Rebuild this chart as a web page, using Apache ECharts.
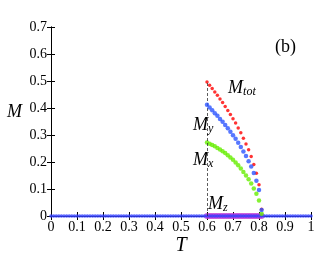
<!DOCTYPE html>
<html><head><meta charset="utf-8">
<script src="https://cdn.jsdelivr.net/npm/echarts@6/dist/echarts.min.js"></script>
<style>html,body{margin:0;padding:0;background:#fff}#c{width:327px;height:253px}</style>
</head><body><div id="c"></div>
<script>
// Ordered-phase temperatures
var T_ord = [0.60,0.61,0.62,0.63,0.64,0.65,0.66,0.67,0.68,0.69,0.70,0.71,0.72,0.73,0.74,0.75,0.76,0.77,0.78,0.79,0.80,0.81];
var M_tot = [0.496,0.484,0.472,0.459,0.447,0.433,0.420,0.406,0.391,0.376,0.360,0.344,0.326,0.308,0.288,0.267,0.245,0.220,0.191,0.158,0.116,0.025];
var M_y   = [0.412,0.402,0.392,0.381,0.371,0.359,0.349,0.337,0.325,0.312,0.299,0.286,0.271,0.256,0.239,0.222,0.203,0.183,0.159,0.131,0.096,0.022];
var M_x   = [0.272,0.268,0.263,0.258,0.252,0.246,0.240,0.233,0.225,0.217,0.208,0.198,0.188,0.176,0.163,0.150,0.136,0.120,0.102,0.082,0.057,0.008];
var M_z   = [0,0,0,0,0,0,0,0,0,0,0,0,0,0,0,0,0,0,0,0,0,0];
// Full temperature grid where magnetisation is drawn at zero
var T_all = [0,0.01,0.02,0.03,0.04,0.05,0.06,0.07,0.08,0.09,0.10,0.11,0.12,0.13,0.14,0.15,0.16,0.17,0.18,0.19,
  0.20,0.21,0.22,0.23,0.24,0.25,0.26,0.27,0.28,0.29,0.30,0.31,0.32,0.33,0.34,0.35,0.36,0.37,0.38,0.39,
  0.40,0.41,0.42,0.43,0.44,0.45,0.46,0.47,0.48,0.49,0.50,0.51,0.52,0.53,0.54,0.55,0.56,0.57,0.58,0.59,
  0.60,0.61,0.62,0.63,0.64,0.65,0.66,0.67,0.68,0.69,0.70,0.71,0.72,0.73,0.74,0.75,0.76,0.77,0.78,0.79,
  0.80,0.81,0.82,0.83,0.84,0.85,0.86,0.87,0.88,0.89,0.90,0.91,0.92,0.93,0.94,0.95,0.96,0.97,0.98,0.99,1.00];
var xTicks = [0,0.1,0.2,0.3,0.4,0.5,0.6,0.7,0.8,0.9,1];
var yTicks = [0,0.1,0.2,0.3,0.4,0.5,0.6,0.7];
var Tc_line = [0.6, 0.496];
// annotation anchors in data coordinates
var annot = [
  {t:0.681, m:0.474, txt:'{m|M}{s|tot}'},
  {t:0.546, m:0.337, txt:'{m|M}{s|y}'},
  {t:0.546, m:0.207, txt:'{m|M}{s|x}'},
  {t:0.604, m:0.045, txt:'{m|M}{s|z}'},
  {t:0.862, m:0.626, txt:'{p|(b)}'}
];

var FF = '"Liberation Serif","DejaVu Serif",serif';
function pairs(xs, ys){ return xs.map(function(x,i){return [x, ys[i]];}); }
function fmt(v){ return String(Math.round(v*10)/10); }

var chart = echarts.init(document.getElementById('c'));
var axisLine = {show:true, lineStyle:{color:'#000', width:1}};
var option = {
  animation:false,
  grid:{left:51, right:16, top:27, bottom:37, containLabel:false, outerBoundsMode:'none'},
  xAxis:[{
    type:'value', min:0, max:1, interval:0.1, position:'bottom',
    name:'T', nameLocation:'middle', nameGap:20, nameMoveOverlap:false,
    nameTextStyle:{fontFamily:FF, fontStyle:'italic', fontSize:20, color:'#000'},
    axisLine:axisLine, axisTick:{inside:true, length:4, lineStyle:{color:'#000'}},
    axisLabel:{fontFamily:FF, fontSize:14, color:'#000', margin:4, formatter:fmt},
    splitLine:{show:false}
  },{
    type:'value', min:0, max:1, interval:0.1, position:'top',
    axisLine:axisLine, axisTick:{inside:true, length:4, lineStyle:{color:'#000'}},
    axisLabel:{show:false}, splitLine:{show:false}
  }],
  yAxis:[{
    type:'value', min:0, max:0.7, interval:0.1, position:'left',
    name:'M', nameLocation:'middle', nameGap:29, nameRotate:0, nameMoveOverlap:false,
    nameTextStyle:{fontFamily:FF, fontStyle:'italic', fontSize:18, color:'#000', verticalAlign:'bottom'},
    axisLine:axisLine, axisTick:{inside:true, length:4, lineStyle:{color:'#000'}},
    axisLabel:{fontFamily:FF, fontSize:14, color:'#000', margin:4, formatter:fmt},
    splitLine:{show:false}
  },{
    type:'value', min:0, max:0.7, interval:0.1, position:'right',
    axisLine:axisLine, axisTick:{inside:true, length:4, lineStyle:{color:'#000'}},
    axisLabel:{show:false}, splitLine:{show:false}
  }],
  series:[
    {type:'scatter', name:'Mz', data:pairs(T_ord, M_z), symbolSize:6, itemStyle:{color:'#c23ad6'}, z:2,
     markLine:{silent:true, symbol:'none', label:{show:false},
       lineStyle:{type:[3,2], color:'#333', width:0.8},
       data:[[{coord:[Tc_line[0],0]},{coord:[Tc_line[0],Tc_line[1]]}]]}},
    {type:'scatter', name:'zero', data:T_all.map(function(t){return [t,0];}), symbolSize:3.5, itemStyle:{color:'#3340ff'}, z:3},
    {type:'scatter', name:'Mx', data:pairs(T_ord, M_x), symbolSize:4.5, itemStyle:{color:'#66ee00'}, z:4},
    {type:'scatter', name:'Mtot', data:pairs(T_ord, M_tot), symbolSize:3.5, itemStyle:{color:'#ff0000'}, z:4},
    {type:'scatter', name:'My', data:pairs(T_ord, M_y), symbolSize:4.5, itemStyle:{color:'#2d55ff'}, z:5}
  ]
};
chart.setOption(option);

var rich = {
  m:{fontFamily:FF, fontStyle:'italic', fontSize:18, color:'#000', lineHeight:20},
  s:{fontFamily:FF, fontStyle:'italic', fontSize:12, color:'#000', lineHeight:20, padding:[8,0,0,0]},
  p:{fontFamily:FF, fontSize:18, color:'#000'}
};
var graphics = annot.map(function(a){
  var p = chart.convertToPixel({gridIndex:0}, [a.t, a.m]);
  return {type:'text', x:p[0], y:p[1], z:100,
    style:{text:a.txt, rich:rich, align:'left', verticalAlign:'middle'}};
});
chart.setOption({graphic:graphics});
</script>
</body></html>
